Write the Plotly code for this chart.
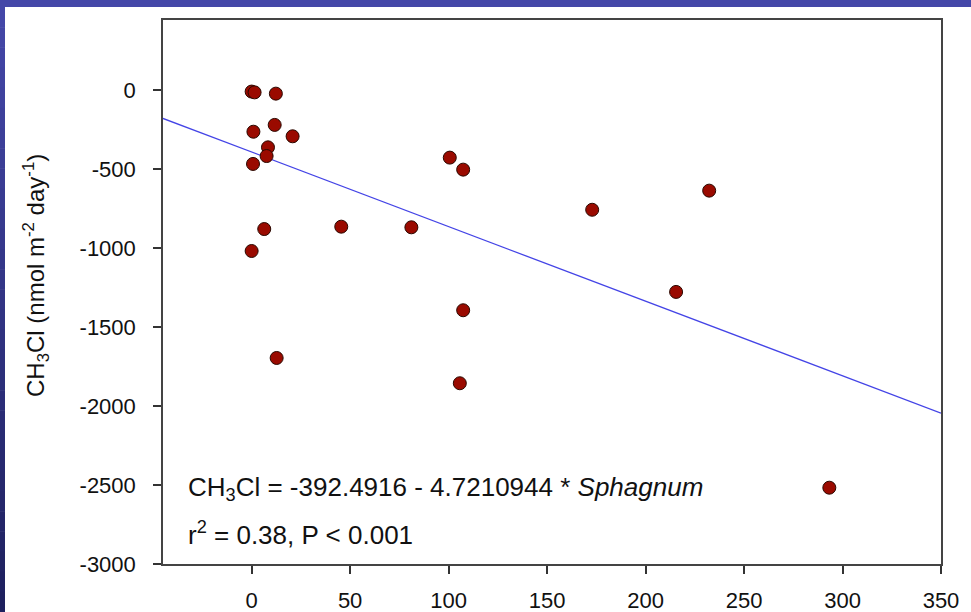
import plotly.graph_objects as go

# Sphagnum cover (x) vs CH3Cl flux (y)
sphagnum = [0, 1.5, 12.3, 0.9, 11.7, 20.8, 8.3, 7.6, 0.7, 6.4, 45.5, 81.1, 0,
            100.6, 107.4, 172.9, 232.3, 215.5, 107.4, 105.7, 293.3, 12.7]
ch3cl = [-10, -15, -23, -264, -221, -293, -363, -418, -468, -880, -865, -869, -1019,
         -428, -504, -758, -637, -1278, -1394, -1856, -2517, -1696]

# Regression coefficients as printed on the chart
intercept = -392.4916
slope = -4.7210944

x_range = [-45, 350]
y_range = [-3000, 443]
x_ticks = [0, 50, 100, 150, 200, 250, 300, 350]
x_tick_text = ["0", "50", "100", "150", "200", "250", "300", "350"]
y_ticks = [0, -500, -1000, -1500, -2000, -2500, -3000]
y_tick_text = ["0", "-500", "-1000", "-1500", "-2000", "-2500", "-3000"]

W, H = 971, 612
ML, MR, MT, MB = 163, 30, 20, 48
PW, PH = W - ML - MR, H - MT - MB

fig = go.Figure()

fit_x = x_range
fit_y = [intercept + slope * v for v in fit_x]
fig.add_trace(go.Scatter(x=fit_x, y=fit_y, mode="lines",
                         line=dict(color="#4444E6", width=1.3),
                         hoverinfo="skip", showlegend=False))

fig.add_trace(go.Scatter(x=sphagnum, y=ch3cl, mode="markers",
                         marker=dict(size=13, color="#9A0A00",
                                     line=dict(color="#2A0800", width=1)),
                         showlegend=False))

font_family = "Liberation Sans, Arial, sans-serif"

def px2paper_x(px):
    return (px - ML) / PW

def px2paper_y(py):
    return (H - MB - py) / PH

fig.add_annotation(x=-33.5, y=-2525, xref="x", yref="y", xanchor="left", yanchor="middle",
                   text="CH<sub>3</sub>Cl = -392.4916 - 4.7210944 * <i>Sphagnum</i>",
                   showarrow=False, font=dict(size=26, color="#111", family=font_family))
fig.add_annotation(x=-33.5, y=-2805, xref="x", yref="y", xanchor="left", yanchor="middle",
                   text="r<sup>2</sup> = 0.38, P < 0.001",
                   showarrow=False, font=dict(size=26, color="#111", family=font_family))

# y-axis title
fig.add_annotation(x=px2paper_x(36), y=px2paper_y(276), xref="paper", yref="paper",
                   xanchor="center", yanchor="middle", textangle=-90,
                   text="CH<sub>3</sub>Cl (nmol m<sup>-2</sup> day<sup>-1</sup>)",
                   showarrow=False, font=dict(size=24, color="#111", family=font_family))

# Slide-style blue border (top bar and left strip with gradient)
shapes = []
shapes.append(dict(type="rect", xref="paper", yref="paper",
                   x0=px2paper_x(0), x1=px2paper_x(W), y0=px2paper_y(7), y1=px2paper_y(0),
                   fillcolor="#4447A8", line=dict(width=0), layer="below"))
n = 30
top_c = (68, 71, 168)
bot_c = (30, 32, 94)
for i in range(n):
    t = i / (n - 1)
    c = tuple(int(round(top_c[k] + (bot_c[k] - top_c[k]) * t)) for k in range(3))
    y0 = 7 + (H - 7) * i / n
    y1 = 7 + (H - 7) * (i + 1) / n
    shapes.append(dict(type="rect", xref="paper", yref="paper",
                       x0=px2paper_x(0), x1=px2paper_x(5),
                       y0=px2paper_y(y1 + 0.5), y1=px2paper_y(y0),
                       fillcolor="rgb(%d,%d,%d)" % c, line=dict(width=0), layer="below"))

fig.update_layout(
    width=W, height=H,
    margin=dict(l=ML, r=MR, t=MT, b=MB, autoexpand=False),
    paper_bgcolor="white", plot_bgcolor="white",
    shapes=shapes,
    font=dict(family=font_family, size=22, color="#111"),
    xaxis=dict(range=x_range, tickvals=x_ticks, ticktext=x_tick_text, ticks="outside",
               ticklen=8, tickwidth=1.5, tickcolor="#333", showline=True, linecolor="#444",
               linewidth=1.5, mirror=True, showgrid=False, zeroline=False, automargin=False,
               tickfont=dict(size=22), ticklabelstandoff=8),
    yaxis=dict(range=y_range, tickvals=y_ticks, ticktext=y_tick_text, ticks="outside",
               ticklen=8, tickwidth=1.5, tickcolor="#333", showline=True, linecolor="#444",
               linewidth=1.5, mirror=True, showgrid=False, zeroline=False, automargin=False,
               tickfont=dict(size=22), ticklabelstandoff=13),
)

fig.write_html("out.html", config={"displayModeBar": False},
               post_script="document.body.style.margin='0';document.body.style.overflow='hidden';")
